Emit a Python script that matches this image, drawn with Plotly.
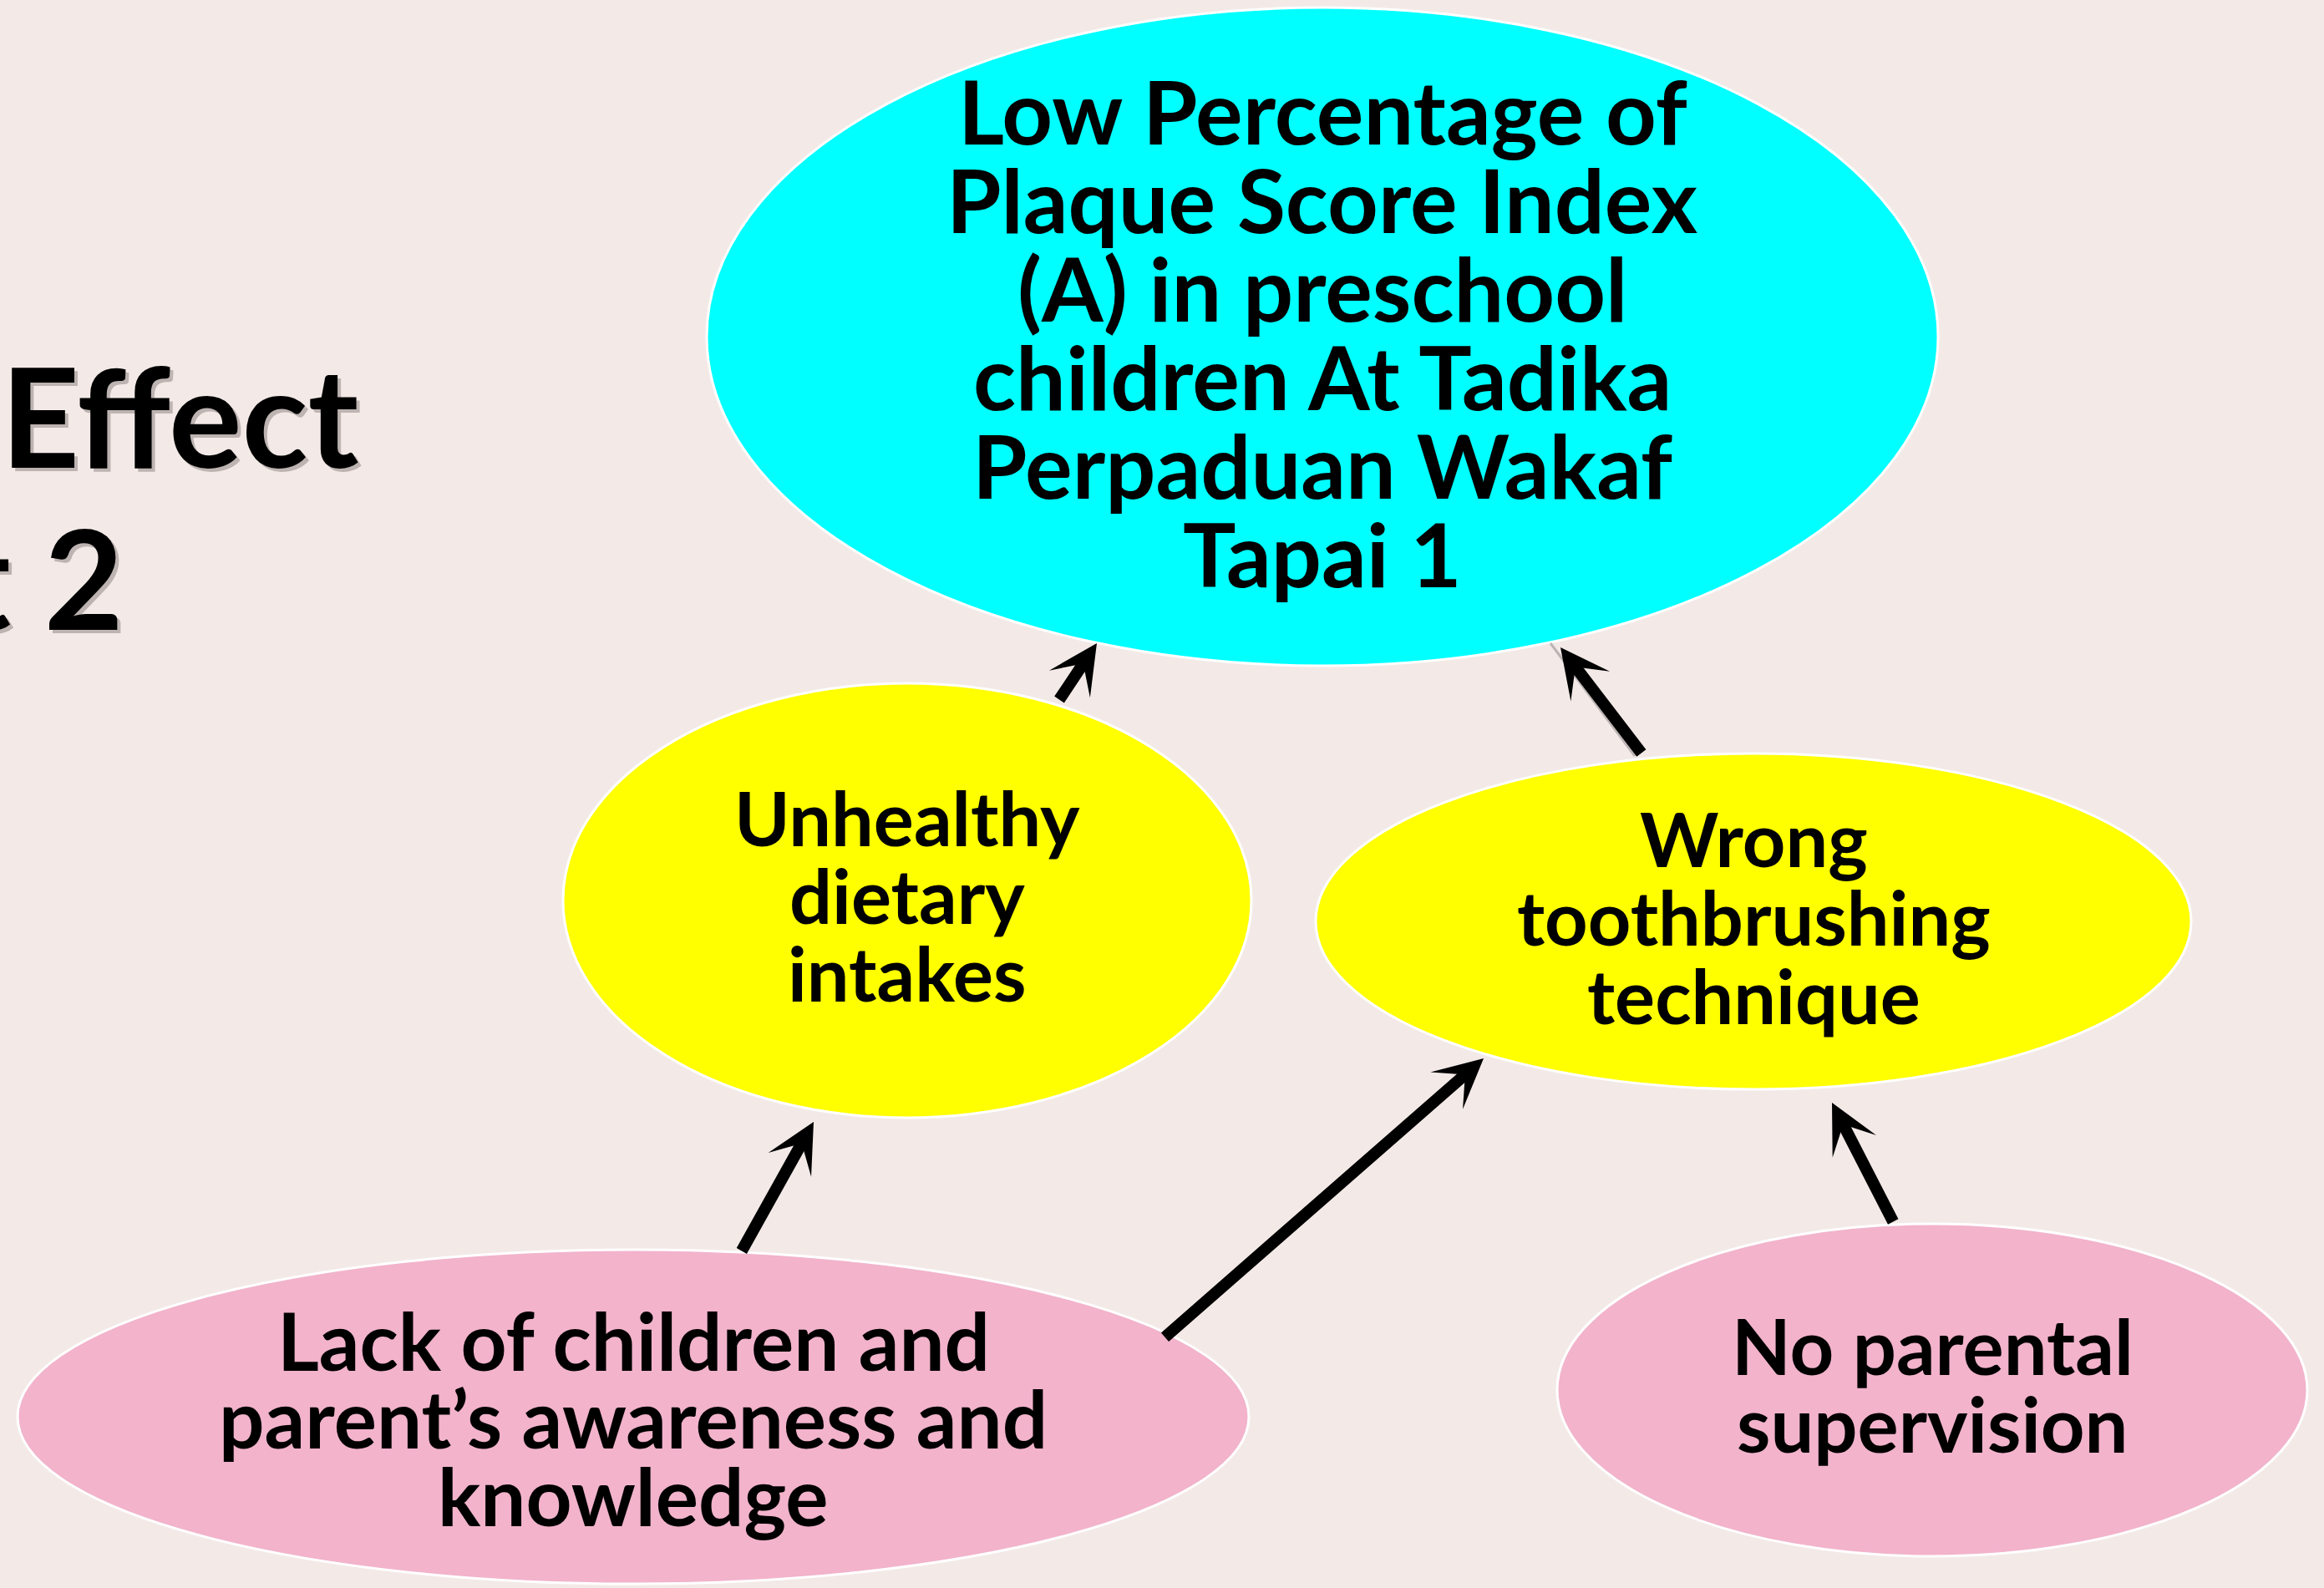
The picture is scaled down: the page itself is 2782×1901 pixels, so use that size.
import plotly.graph_objects as go

W, H = 2782, 1901

# ---------------- content ----------------
node_names = ["effect", "diet", "brush", "aware", "super"]
node_lines = [
    ["Low Percentage of", "Plaque Score Index", "(A) in preschool",
     "children At Tadika", "Perpaduan Wakaf", "Tapai 1"],
    ["Unhealthy", "dietary", "intakes"],
    ["Wrong", "toothbrushing", "technique"],
    ["Lack of children and", "parent\u2019s awareness and", "knowledge"],
    ["No parental", "supervision"],
]
edge_from = ["diet", "brush", "aware", "aware", "super"]
edge_to = ["effect", "effect", "diet", "brush", "brush"]
title_lines = ["Effect", "t 2"]

# ---------------- layout (pixels) ----------------
node_cx = [1583, 1086, 2099, 758, 2313]
node_cy = [403, 1078, 1103, 1696, 1664]
node_rx = [737, 412, 524, 737, 449]
node_ry = [394, 260, 201, 200, 199]
node_fill = ["#00FFFF", "#FFFF00", "#FFFF00", "#F2B3CB", "#F2B3CB"]
node_text_y0 = [132, 978, 1003, 1603, 1610]
node_gap = [106, 93, 94, 93, 93]
node_font = [106, 90, 90, 96, 92]

edge_tail = [(1267, 839), (1966, 903), (887, 1499), (1393, 1602), (2267, 1464)]
edge_head = [(1313, 770), (1868, 775), (974, 1343), (1776, 1267), (2193, 1320)]

BG = "#F3EAE7"
FONT = "Lato"

fig = go.Figure()
fig.add_trace(go.Scatter(x=[0, W], y=[0, H], mode="markers",
                         marker=dict(opacity=0), hoverinfo="skip", showlegend=False))

# ellipses
for i, name in enumerate(node_names):
    fig.add_shape(type="circle", xref="x", yref="y",
                  x0=node_cx[i] - node_rx[i], x1=node_cx[i] + node_rx[i],
                  y0=node_cy[i] - node_ry[i], y1=node_cy[i] + node_ry[i],
                  fillcolor=node_fill[i], line=dict(color="white", width=3),
                  layer="below")

# faint connector line next to the arrow
fig.add_shape(type="line", xref="x", yref="y", x0=1856, y0=770, x1=1957, y1=905,
              line=dict(color="#BDB5B5", width=3), layer="below")

# node texts
for i, lines in enumerate(node_lines):
    for j, t in enumerate(lines):
        fig.add_annotation(x=node_cx[i], y=node_text_y0[i] + j * node_gap[i],
                           xref="x", yref="y", text=t, showarrow=False,
                           xanchor="center", yanchor="middle",
                           font=dict(family=FONT, size=node_font[i], color="black",
                                     weight="bold"))

# arrows
for k in range(len(edge_from)):
    (tx, ty), (hx, hy) = edge_tail[k], edge_head[k]
    fig.add_annotation(x=hx, y=hy, ax=tx, ay=ty, xref="x", yref="y",
                       axref="x", ayref="y", text="", showarrow=True,
                       arrowhead=3, arrowsize=0.7, arrowwidth=14,
                       arrowcolor="black", standoff=0, startstandoff=0)

# partially visible slide title (with shadow)
title_x = [432, 150]
title_y = [496, 690]
for j, t in enumerate(title_lines):
    for dx, dy, col in [(4, 4, "rgba(90,80,80,0.35)"), (0, 0, "black")]:
        fig.add_annotation(x=title_x[j] + dx, y=title_y[j] + dy, xref="x", yref="y",
                           text=t, showarrow=False, xanchor="right", yanchor="middle",
                           font=dict(family=FONT, size=164, color=col, weight="bold"))

fig.update_layout(
    width=W, height=H, margin=dict(l=0, r=0, t=0, b=0),
    paper_bgcolor=BG, plot_bgcolor=BG, showlegend=False,
    xaxis=dict(range=[0, W], visible=False, fixedrange=True),
    yaxis=dict(range=[H, 0], visible=False, fixedrange=True),
)

fig.write_html("out.html", config={"displayModeBar": False},
               post_script="document.body.style.margin='0';document.body.style.overflow='hidden';")
